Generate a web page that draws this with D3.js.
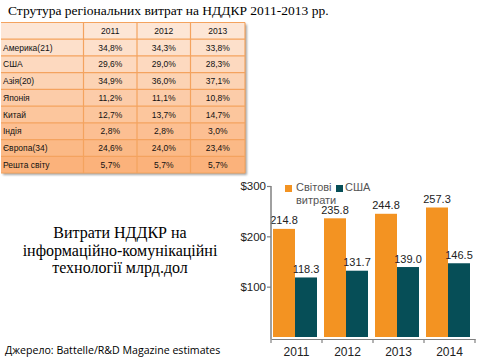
<!DOCTYPE html>
<html>
<head>
<meta charset="utf-8">
<script src="https://cdn.jsdelivr.net/npm/d3@7"></script>
<style>
  body { margin: 0; background: #fff; }
  svg { display: block; }
</style>
</head>
<body>
<svg id="slide" width="480" height="360"></svg>
<script>
// table data
const tableYears = ["2011", "2012", "2013"];
const regions = ["Америка(21)", "США", "Азія(20)", "Японія", "Китай", "Індія", "Європа(34)", "Решта світу"];
const share2011 = ["34,8%", "29,6%", "34,9%", "11,2%", "12,7%", "2,8%", "24,6%", "5,7%"];
const share2012 = ["34,3%", "29,0%", "36,0%", "11,1%", "13,7%", "2,8%", "24,0%", "5,7%"];
const share2013 = ["33,8%", "28,3%", "37,1%", "10,8%", "14,7%", "3,0%", "23,4%", "5,7%"];

// bar chart data
const years = ["2011", "2012", "2013", "2014"];
const worldSpend = [214.8, 235.8, 244.8, 257.3];
const usaSpend = [118.3, 131.7, 139.0, 146.5];
const yTicks = [100, 200, 300];

const svg = d3.select("#slide");
const serif = "'Liberation Serif', 'DejaVu Serif', serif";

// title
svg.append("text")
    .attr("x", 8).attr("y", 15)
    .style("font-family", serif)
    .style("font-size", "13.5px")
    .style("fill", "#000")
    .text("Струтура регіональних витрат на НДДКР 2011-2013 рр.");

// ---- table ----
const defs = svg.append("defs");
const shadow = defs.append("filter").attr("id", "shadow")
    .attr("x", "-5%").attr("y", "-5%").attr("width", "110%").attr("height", "115%");
shadow.append("feDropShadow")
    .attr("dx", 2).attr("dy", 2).attr("stdDeviation", 1.2)
    .attr("flood-color", "#000").attr("flood-opacity", 0.35);

const tableRows = [["", ...tableYears]].concat(
    regions.map((r, i) => [r, share2011[i], share2012[i], share2013[i]])
);

const tX = d3.scaleOrdinal().domain([0, 1, 2, 3, 4]).range([1, 83.5, 137, 190.5, 245]);
const tY = d3.scaleLinear().domain([0, tableRows.length]).range([22.5, 173]);
const rowColor = d3.scaleLinear().domain([0, tableRows.length - 1])
    .range(["#fde6d6", "#fbb27b"]).interpolate(d3.interpolateRgb);

const table = svg.append("g");
table.append("rect")
    .attr("x", tX(0)).attr("y", tY(0))
    .attr("width", tX(4) - tX(0)).attr("height", tY(tableRows.length) - tY(0))
    .attr("fill", "#fbc8a0")
    .attr("filter", "url(#shadow)");

const rowG = table.selectAll(".row").data(tableRows).join("g").attr("class", "row");
rowG.append("rect")
    .attr("x", tX(0)).attr("y", (d, i) => tY(i))
    .attr("width", tX(4) - tX(0)).attr("height", tY(1) - tY(0))
    .attr("fill", (d, i) => rowColor(i));

rowG.selectAll("text").data((d, i) => d.map((v, j) => ({ v, j, i }))).join("text")
    .attr("x", d => d.j === 0 ? tX(0) + 2 : (tX(d.j) + tX(d.j + 1)) / 2)
    .attr("y", d => tY(d.i) + 11.5)
    .attr("text-anchor", d => d.j === 0 ? "start" : "middle")
    .style("font-family", "'Liberation Sans', Arial, sans-serif")
    .style("font-size", "8.5px")
    .style("fill", "#111")
    .text(d => d.v);

// grid lines
const gridColor = "#f4a35f";
table.selectAll(".hline").data(d3.range(tableRows.length + 1)).join("line")
    .attr("x1", tX(0)).attr("x2", tX(4))
    .attr("y1", d => tY(d)).attr("y2", d => tY(d))
    .attr("stroke", gridColor).attr("stroke-width", 1.2);
table.selectAll(".vline").data([1, 2, 3, 4]).join("line")
    .attr("x1", d => tX(d)).attr("x2", d => tX(d))
    .attr("y1", tY(0)).attr("y2", tY(tableRows.length))
    .attr("stroke", gridColor).attr("stroke-width", 1.2);

// ---- center caption ----
const caption = ["Витрати НДДКР на", "інформаційно-комунікаційні", "технології млрд.дол"];
svg.append("g").selectAll("text").data(caption).join("text")
    .attr("x", 120).attr("y", (d, i) => 238 + i * 17.5)
    .attr("text-anchor", "middle")
    .style("font-family", serif)
    .style("font-size", "16px")
    .style("fill", "#000")
    .text(d => d);

svg.append("text")
    .attr("x", 5).attr("y", 354)
    .style("font-family", "'Open Sans', sans-serif")
    .style("font-size", "10.6px")
    .style("fill", "#000")
    .text("Джерело: Battelle/R&D Magazine estimates");

// ---- bar chart ----
const orange = "#f39322";
const teal = "#064e57";
const axisColor = "#808080";
const chartFont = "'Liberation Sans', Arial, sans-serif";

const x = d3.scaleBand().domain(years).range([271, 475]);
const xSub = d3.scaleBand().domain(["world", "usa"]).range([2, x.bandwidth() - 5]);
const y = d3.scaleLinear().domain([0, 300]).range([337, 186]);

const chart = svg.append("g");
const bars = years.map((yr, i) => [
    { yr, key: "world", v: worldSpend[i] },
    { yr, key: "usa", v: usaSpend[i] }
]).flat();

chart.selectAll(".bar").data(bars).join("rect")
    .attr("x", d => x(d.yr) + xSub(d.key))
    .attr("width", xSub.bandwidth())
    .attr("y", d => y(d.v))
    .attr("height", d => y(0) - y(d.v))
    .attr("fill", d => d.key === "world" ? orange : teal);

chart.selectAll(".val").data(bars).join("text")
    .attr("x", d => x(d.yr) + xSub(d.key) + xSub.bandwidth() / 2)
    .attr("y", d => y(d.v) - 4.5)
    .attr("text-anchor", "middle")
    .style("font-family", chartFont)
    .style("font-size", "11px")
    .style("fill", "#222")
    .text(d => d.v.toFixed(1));

// y axis
const yAxis = chart.append("g")
    .attr("transform", "translate(271,0)")
    .call(d3.axisLeft(y).tickValues(yTicks).tickSize(4).tickFormat(d => "$" + d));
yAxis.select(".domain").attr("d", `M0,${y(300)}V${y(0) + 2}`).attr("stroke", axisColor).attr("stroke-width", 1.5);
yAxis.selectAll(".tick line").attr("stroke", axisColor).attr("stroke-width", 1.2);
yAxis.selectAll(".tick text")
    .attr("x", -5)
    .style("font-family", chartFont).style("font-size", "11.5px").style("fill", "#222");

// x axis
const xAxis = chart.append("g")
    .attr("transform", `translate(0,${y(0) + 2})`)
    .call(d3.axisBottom(x).tickSize(0).tickPadding(8));
xAxis.select(".domain").attr("stroke", axisColor).attr("stroke-width", 1.2);
xAxis.selectAll(".tick text")
    .style("font-family", chartFont).style("font-size", "12px").style("fill", "#222");
xAxis.selectAll(".edge").data(years.map(d => x(d)).concat([x(years[3]) + x.bandwidth()])).join("line")
    .attr("x1", d => d).attr("x2", d => d)
    .attr("y1", 0).attr("y2", 4)
    .attr("stroke", axisColor).attr("stroke-width", 1.2);

// legend
const legend = chart.append("g").style("font-family", chartFont).style("font-size", "11px").style("fill", "#555");
legend.append("rect").attr("x", 285).attr("y", 185).attr("width", 7).attr("height", 7).attr("fill", orange);
legend.append("text").attr("x", 296).attr("y", 191).text("Світові");
legend.append("text").attr("x", 296).attr("y", 204).text("витрати");
legend.append("rect").attr("x", 336).attr("y", 185).attr("width", 7).attr("height", 7).attr("fill", teal);
legend.append("text").attr("x", 345).attr("y", 191).text("США");
</script>
</body>
</html>
